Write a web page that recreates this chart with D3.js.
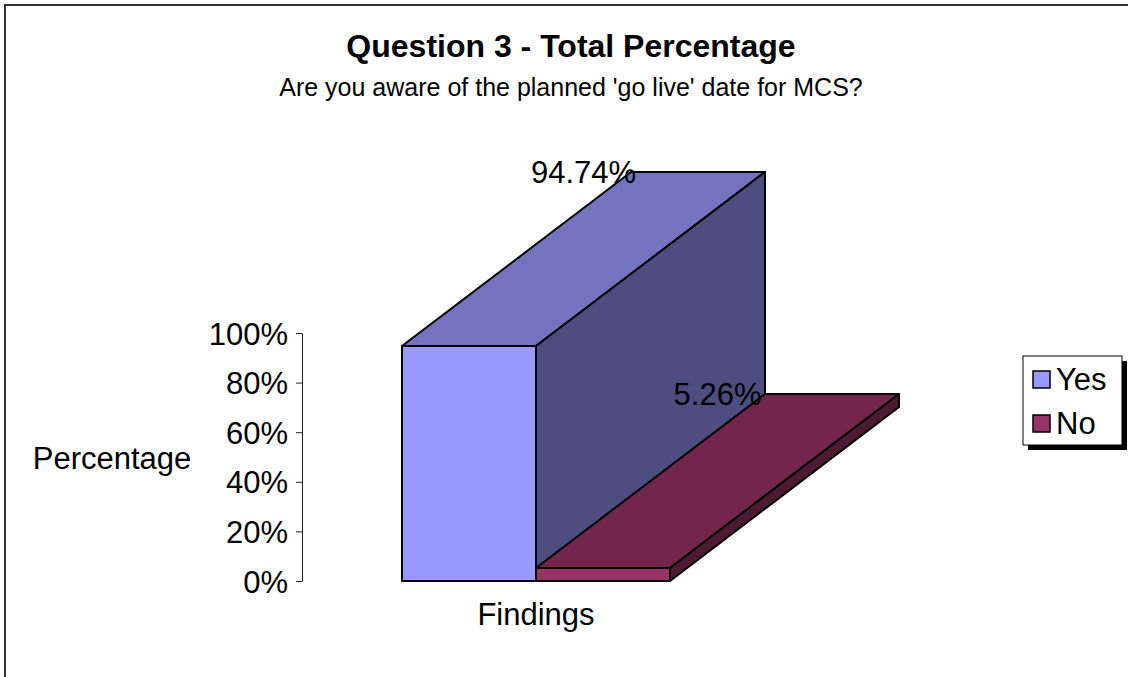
<!DOCTYPE html>
<html>
<head>
<meta charset="utf-8">
<script src="https://cdn.jsdelivr.net/npm/d3@7"></script>
<style>
  html, body { margin: 0; padding: 0; background: #fff; }
  svg { display: block; font-family: "Liberation Sans", Arial, sans-serif; }
</style>
</head>
<body>
<svg id="chart" width="1128" height="677"></svg>
<script>
// Survey results, question 3
const categories = ["Findings"];
const seriesNames = ["Yes", "No"];
const yesValues = [0.9474];
const noValues = [0.0526];
const valueLabels = ["94.74%", "5.26%"];
const tickValues = [0, 0.2, 0.4, 0.6, 0.8, 1];
const seriesColors = ["#9999FF", "#993366"];

const series = seriesNames.map((name, i) => ({
  name,
  color: seriesColors[i],
  values: i === 0 ? yesValues : noValues,
  label: valueLabels[i]
}));

const svg = d3.select("#chart");
const W = 1128, H = 677;
const labelSize = 31;

// chart area frame
svg.append("rect")
  .attr("x", 5).attr("y", 5)
  .attr("width", W + 10).attr("height", H + 10)
  .attr("fill", "#fff")
  .attr("stroke", "#333").attr("stroke-width", 2);

// titles
svg.append("text")
  .attr("x", 571).attr("y", 57)
  .attr("text-anchor", "middle")
  .attr("font-size", 32).attr("font-weight", "bold")
  .text("Question 3 - Total Percentage");
svg.append("text")
  .attr("x", 571).attr("y", 96)
  .attr("text-anchor", "middle")
  .attr("font-size", 25)
  .text("Are you aware of the planned 'go live' date for MCS?");

// scales
const axisX = 302;
const y = d3.scaleLinear().domain([0, 1]).range([581, 333]);
const x = d3.scaleBand().domain(categories).range([axisX, 770]).paddingInner(0).paddingOuter(0.373);
const xs = d3.scaleBand().domain(seriesNames).range([0, x.bandwidth()]);

// 3-D depth offset
const depthX = 229, depthY = 174;

// value axis
const yAxis = d3.axisLeft(y)
  .tickValues(tickValues)
  .tickFormat(d3.format(".0%"))
  .tickSizeInner(6)
  .tickSizeOuter(0)
  .tickPadding(8);
const gAxis = svg.append("g")
  .attr("transform", `translate(${axisX},0)`)
  .call(yAxis);
gAxis.select(".domain").attr("stroke", "#222").attr("stroke-width", 1);
gAxis.selectAll(".tick line").attr("stroke", "#222");
gAxis.selectAll(".tick text")
  .attr("font-size", labelSize)
  .attr("font-family", "\"Liberation Sans\", Arial, sans-serif")
  .attr("fill", "#000")
  .attr("dy", "0.36em");

// axis titles
svg.append("text")
  .attr("x", 112).attr("y", 469)
  .attr("text-anchor", "middle")
  .attr("font-size", labelSize)
  .text("Percentage");
svg.append("text")
  .attr("x", x(categories[0]) + x.bandwidth() / 2).attr("y", 625)
  .attr("text-anchor", "middle")
  .attr("font-size", labelSize)
  .text(categories[0]);

// 3-D bars
const shade = (c, k) => {
  const r = d3.rgb(c);
  return d3.rgb(r.r * k, r.g * k, r.b * k).formatHex();
};

const bars = svg.append("g");
series.forEach(s => {
  categories.forEach((cat, ci) => {
    const x0 = x(cat) + xs(s.name);
    const x1 = x0 + xs.bandwidth();
    const yTop = y(s.values[ci]);
    const yBase = y(0);
    const g = bars.append("g")
      .attr("stroke", "#000").attr("stroke-width", 2).attr("stroke-linejoin", "round");
    // front face
    g.append("path")
      .attr("d", `M${x0},${yBase}L${x0},${yTop}L${x1},${yTop}L${x1},${yBase}Z`)
      .attr("fill", s.color);
    // top face
    g.append("path")
      .attr("d", `M${x0},${yTop}L${x0 + depthX},${yTop - depthY}L${x1 + depthX},${yTop - depthY}L${x1},${yTop}Z`)
      .attr("fill", shade(s.color, 0.75));
    // side face
    g.append("path")
      .attr("d", `M${x1},${yBase}L${x1},${yTop}L${x1 + depthX},${yTop - depthY}L${x1 + depthX},${yBase - depthY}Z`)
      .attr("fill", shade(s.color, 0.5));
  });
});

// data labels
series.forEach(s => {
  categories.forEach((cat, ci) => {
    const cx = x(cat) + xs(s.name) + xs.bandwidth() / 2 + depthX / 2;
    svg.append("text")
      .attr("x", cx)
      .attr("y", y(s.values[ci]) - depthY)
      .attr("dy", "0.36em")
      .attr("text-anchor", "middle")
      .attr("font-size", labelSize)
      .text(s.label);
  });
});

// legend
const lg = svg.append("g").attr("transform", "translate(1023,356)");
lg.append("rect").attr("x", 5).attr("y", 5).attr("width", 99).attr("height", 89).attr("fill", "#000");
lg.append("rect").attr("x", 0).attr("y", 0).attr("width", 99).attr("height", 89)
  .attr("fill", "#fff").attr("stroke", "#000").attr("stroke-width", 1);
series.forEach((s, i) => {
  const row = lg.append("g").attr("transform", `translate(0,${23 + i * 44})`);
  row.append("rect").attr("x", 10).attr("y", -8).attr("width", 17).attr("height", 17)
    .attr("fill", s.color).attr("stroke", "#000").attr("stroke-width", 1.5);
  row.append("text").attr("x", 33).attr("y", 0).attr("dy", "0.36em")
    .attr("font-size", labelSize).text(s.name);
});
</script>
</body>
</html>
